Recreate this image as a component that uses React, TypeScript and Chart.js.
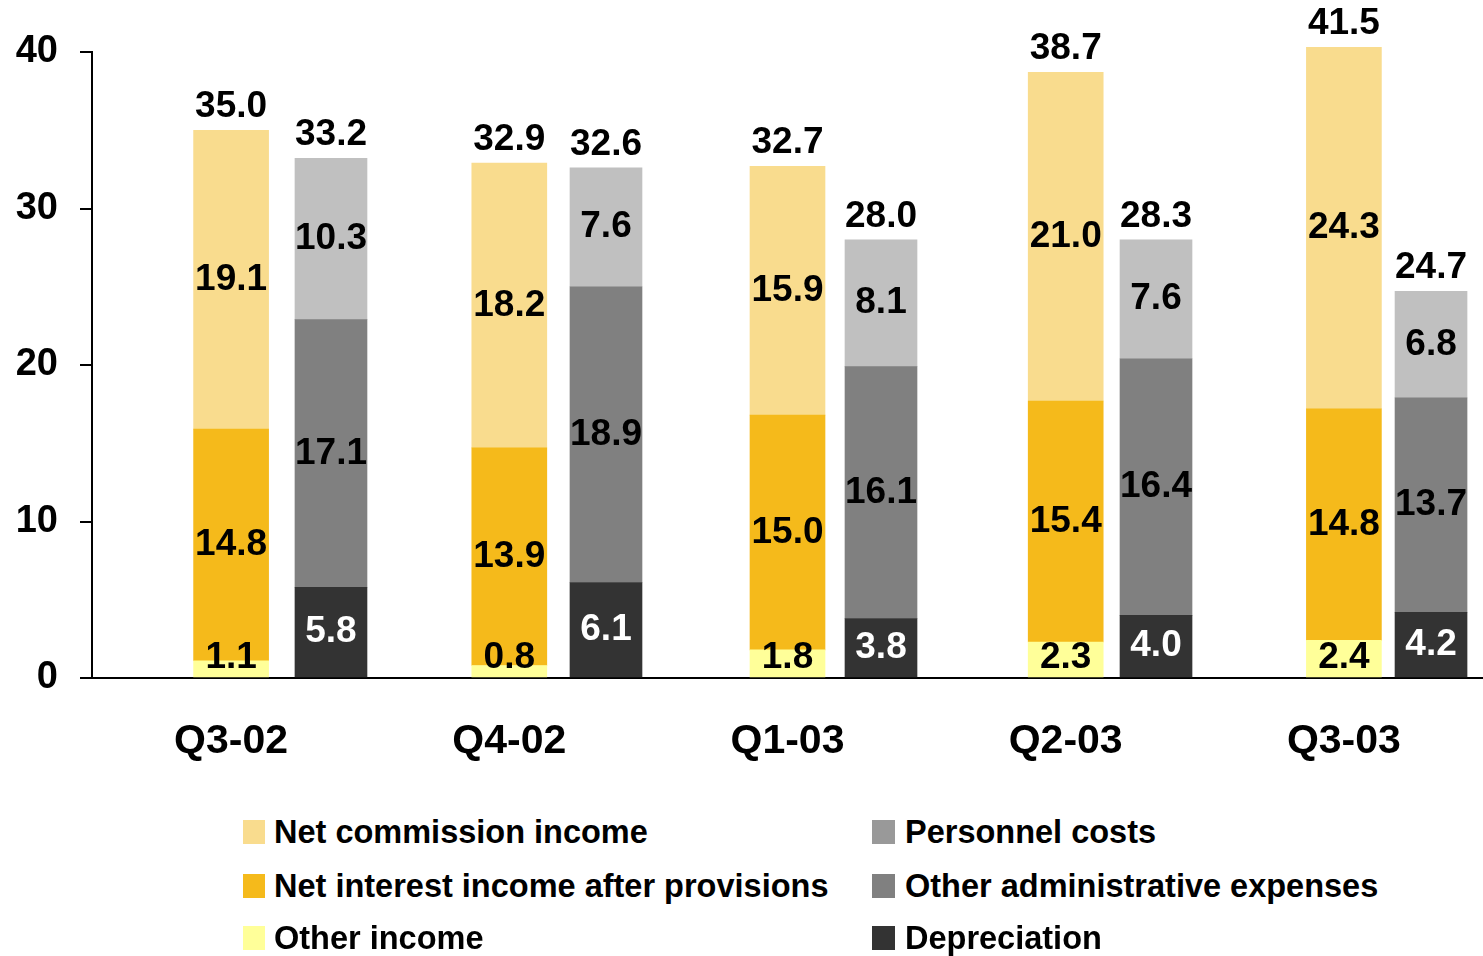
import React, { useEffect, useRef } from "react";
import { Chart, registerables } from "chart.js";

Chart.register(...registerables);

const categories = ["Q3-02", "Q4-02", "Q1-03", "Q2-03", "Q3-03"];
const otherIncome = [1.1, 0.8, 1.8, 2.3, 2.4];
const netInterest = [14.8, 13.9, 15.0, 15.4, 14.8];
const netCommission = [19.1, 18.2, 15.9, 21.0, 24.3];
const incomeTotals = [35.0, 32.9, 32.7, 38.7, 41.5];
const depreciation = [5.8, 6.1, 3.8, 4.0, 4.2];
const otherAdmin = [17.1, 18.9, 16.1, 16.4, 13.7];
const personnel = [10.3, 7.6, 8.1, 7.6, 6.8];
const expenseTotals = [33.2, 32.6, 28.0, 28.3, 24.7];
const yTicks = [0, 10, 20, 30, 40];

const legendLeft = [
  { label: "Net commission income", color: "#F9DC8E" },
  { label: "Net interest income after provisions", color: "#F5BA1B" },
  { label: "Other income", color: "#FFFF99" },
];
const legendRight = [
  { label: "Personnel costs", color: "#999999" },
  { label: "Other administrative expenses", color: "#808080" },
  { label: "Depreciation", color: "#333333" },
];

const FONT = '"Liberation Sans", Arial, sans-serif';

const labelPlugin = {
  id: "valueLabels",
  afterDatasetsDraw(chart: any) {
    const ctx = chart.ctx;
    const area = chart.chartArea;
    ctx.save();
    ctx.font = `bold 37px ${FONT}`;
    ctx.textAlign = "center";
    ctx.textBaseline = "middle";
    chart.data.datasets.forEach((ds: any, di: number) => {
      const meta = chart.getDatasetMeta(di);
      meta.data.forEach((el: any, i: number) => {
        const p = el.getProps(["x", "y", "base"], true);
        const top = Math.max(p.y, area.top - 5);
        let cy = (top + p.base) / 2;
        cy = Math.min(cy, p.base - 19);
        const raw = ds.values[i];
        ctx.fillStyle = ds.labelColor;
        ctx.fillText(raw.toFixed(1), p.x, cy);
        if (ds.totals) {
          ctx.fillStyle = "#000";
          ctx.textBaseline = "alphabetic";
          ctx.fillText(ds.totals[i].toFixed(1), p.x, top - 13);
          ctx.textBaseline = "middle";
        }
      });
    });
    ctx.restore();
  },
};

export default function App() {
  const ref = useRef<HTMLCanvasElement>(null);

  useEffect(() => {
    if (!ref.current) return;
    const clip = { left: false, right: false, top: 5, bottom: 0 } as any;
    const xy = (arr: number[]) => arr.map((v, i) => ({ x: i, y: v }));
    const common = { grouped: false, clip, borderWidth: 0 };
    const chart = new Chart(ref.current, {
      type: "bar",
      data: {
        labels: categories,
        datasets: [
          { ...common, label: "Other income", data: otherIncome, values: otherIncome, backgroundColor: "#FFFF99", xAxisID: "x", stack: "income", barThickness: 75, labelColor: "#000" } as any,
          { ...common, label: "Net interest income after provisions", data: netInterest, values: netInterest, backgroundColor: "#F5BA1B", xAxisID: "x", stack: "income", barThickness: 75, labelColor: "#000" } as any,
          { ...common, label: "Net commission income", data: netCommission, values: netCommission, totals: incomeTotals, backgroundColor: "#F9DC8E", xAxisID: "x", stack: "income", barThickness: 75, labelColor: "#000" } as any,
          { ...common, label: "Depreciation", data: xy(depreciation), values: depreciation, backgroundColor: "#333333", xAxisID: "x2", stack: "expense", barThickness: 72, labelColor: "#fff" } as any,
          { ...common, label: "Other administrative expenses", data: xy(otherAdmin), values: otherAdmin, backgroundColor: "#808080", xAxisID: "x2", stack: "expense", barThickness: 72, labelColor: "#000" } as any,
          { ...common, label: "Personnel costs", data: xy(personnel), values: personnel, totals: expenseTotals, backgroundColor: "#C0C0C0", xAxisID: "x2", stack: "expense", barThickness: 72, labelColor: "#000" } as any,
        ],
      },
      options: {
        animation: false,
        responsive: false,
        devicePixelRatio: 1,
        layout: { padding: { left: 0, right: 0, top: 52, bottom: 0 } },
        plugins: { legend: { display: false }, tooltip: { enabled: false } },
        scales: {
          x: {
            type: "category",
            position: "bottom",
            grid: { display: false, drawTicks: false },
            border: { display: true, color: "#000", width: 2 },
            ticks: { color: "#000", font: { family: FONT, size: 41, weight: "bold" }, padding: 39, maxRotation: 0 },
            afterFit: (s: any) => { s.height = 122; },
          },
          x2: {
            type: "linear",
            display: false,
            min: -0.869,
            max: 4.189,
            offset: false,
          },
          y: {
            type: "linear",
            stacked: true,
            min: 0,
            max: 40,
            afterBuildTicks: (s: any) => { s.ticks = yTicks.map((v) => ({ value: v })); },
            grid: { display: true, drawOnChartArea: false, drawTicks: true, tickLength: 12, color: "#000", lineWidth: 2 },
            border: { display: true, color: "#000", width: 2 },
            ticks: { color: "#000", font: { family: FONT, size: 38, weight: "bold" }, padding: 22 },
            afterFit: (s: any) => { s.width = 92; },
          },
        },
      } as any,
      plugins: [labelPlugin],
    });
    return () => chart.destroy();
  }, []);

  const legendItem = (item: { label: string; color: string }, swatchLeft: number, textLeft: number, cy: number, sw: number) => (
    <React.Fragment key={item.label}>
      <div style={{ position: "absolute", left: swatchLeft, top: cy - 12, width: sw, height: 24, background: item.color }} />
      <div style={{ position: "absolute", left: textLeft, top: cy - 20, height: 40, lineHeight: "40px", fontFamily: FONT, fontWeight: "bold", fontSize: 32.5, color: "#000", whiteSpace: "nowrap" }}>{item.label}</div>
    </React.Fragment>
  );
  const rowsY = [832, 886, 938];

  return (
    <div style={{ position: "fixed", left: 0, top: 0, width: 1483, height: 956, background: "#fff" }}>
      <canvas ref={ref} width={1483} height={800} style={{ position: "absolute", left: 0, top: 0, width: 1483, height: 800 }} />
      {legendLeft.map((it, i) => legendItem(it, 243, 274, rowsY[i], 22))}
      {legendRight.map((it, i) => legendItem(it, 872, 905, rowsY[i], 23))}
    </div>
  );
}
